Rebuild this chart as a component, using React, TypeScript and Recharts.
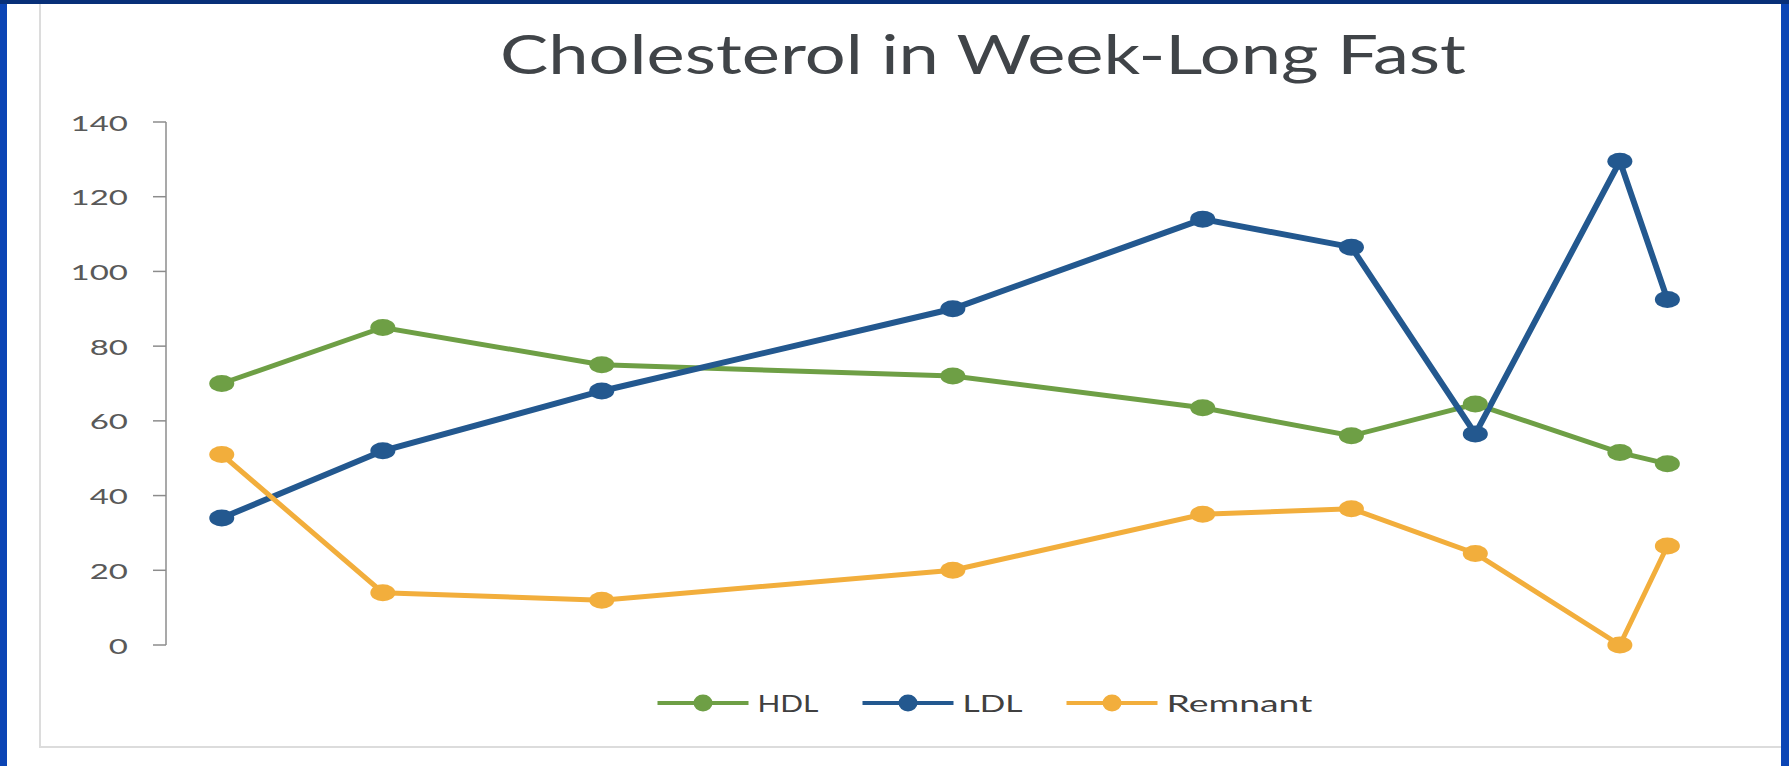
import { LineChart, Line, XAxis, YAxis, Legend } from "recharts";

// x positions in days since start of the fast
const DAYS = [0, 0.78, 1.84, 3.54, 4.75, 5.47, 6.07, 6.77, 7.0];
const HDL = [70, 85, 75, 72, 63.5, 56, 64.5, 51.5, 48.5];
const LDL = [34, 52, 68, 90, 114, 106.5, 56.5, 129.5, 92.5];
const REMNANT = [51, 14, 12, 20, 35, 36.5, 24.5, 0, 26.5];
const Y_TICKS = [0, 20, 40, 60, 80, 100, 120, 140];

const SERIES = [
    { key: "hdl", name: "HDL", color: "#6e9f45", width: 5, labelW: 61 },
    { key: "ldl", name: "LDL", color: "#23588f", width: 6, labelW: 60 },
    { key: "remnant", name: "Remnant", color: "#f2ae3c", width: 5, labelW: 146 },
];

const data = DAYS.map((d, i) => ({ day: d, hdl: HDL[i], ldl: LDL[i], remnant: REMNANT[i] }));

const FONT = "Lato, 'Open Sans', sans-serif";
const W = 1789;
const H = 766;

const YTick = (props: any) => {
    const { x, y, payload } = props;
    return (
        <text
            x={0}
            y={0}
            transform={`translate(${x},${y}) scale(1.5,1)`}
            textAnchor="end"
            dominantBaseline="central"
            fontSize={22}
            fontFamily={FONT}
            fill="#595959"
        >
            {payload.value}
        </text>
    );
};

const makeDot = (color: string) => (props: any) => {
    const { cx, cy, index } = props;
    if (cx == null || cy == null) return <g key={index} />;
    return <ellipse key={index} cx={cx} cy={cy} rx={12.5} ry={8.5} fill={color} />;
};

const LegendContent = () => {
    const icon = 91;
    const gapIcon = 9;
    const gapItem = 44;
    const total = SERIES.reduce((s, it) => s + icon + gapIcon + it.labelW, 0) + gapItem * (SERIES.length - 1);
    let x = 985 - total / 2;
    const items = SERIES.map((s) => {
        const x0 = x;
        x += icon + gapIcon + s.labelW + gapItem;
        return (
            <g key={s.key}>
                <line x1={x0} x2={x0 + icon} y1={20} y2={20} stroke={s.color} strokeWidth={4} />
                <ellipse cx={x0 + icon / 2} cy={20} rx={9.5} ry={8.5} fill={s.color} />
                <text
                    x={x0 + icon + gapIcon}
                    y={20}
                    dominantBaseline="central"
                    fontSize={23}
                    fontFamily={FONT}
                    fill="#404040"
                    textLength={s.labelW}
                    lengthAdjust="spacingAndGlyphs"
                >
                    {s.name}
                </text>
            </g>
        );
    });
    return (
        <svg width={W} height={40} style={{ display: "block" }}>
            {items}
        </svg>
    );
};

export default function App() {
    return (
        <div style={{ position: "fixed", left: 0, top: 0, width: W, height: H, background: "#0b45b5", overflow: "hidden" }}>
            <div style={{ position: "absolute", left: 0, top: 0, width: W, height: 4, background: "#072f78" }} />
            <div style={{ position: "absolute", left: 7, top: 4, width: 1774, height: H - 4, background: "#ffffff" }} />
            <div style={{ position: "absolute", left: 39, top: 4, width: 2, height: 743, background: "#dcdcdc" }} />
            <div style={{ position: "absolute", left: 39, top: 746, width: 1742, height: 2, background: "#dcdcdc" }} />
            <svg width={W} height={120} style={{ position: "absolute", left: 0, top: 0 }}>
                <text
                    x={983}
                    y={74}
                    textAnchor="middle"
                    fontSize={54}
                    fontFamily={FONT}
                    fill="#404448"
                    textLength={966}
                    lengthAdjust="spacingAndGlyphs"
                >
                    Cholesterol in Week-Long Fast
                </text>
            </svg>
            <div style={{ position: "absolute", left: 0, top: 0 }}>
                <LineChart width={W} height={H} data={data} margin={{ top: 122, right: 70, bottom: 121, left: 0 }}>
                    <XAxis dataKey="day" type="number" domain={[-0.27, 7.25]} hide />
                    <YAxis
                        width={166}
                        domain={[0, 140]}
                        ticks={Y_TICKS}
                        interval={0}
                        axisLine={{ stroke: "#8c8c8c", strokeWidth: 1.5 }}
                        tickLine={{ stroke: "#8c8c8c", strokeWidth: 1.5 }}
                        tickSize={13}
                        tickMargin={25}
                        tick={<YTick />}
                    />
                    {SERIES.map((s) => (
                        <Line
                            key={s.key}
                            type="linear"
                            dataKey={s.key}
                            name={s.name}
                            stroke={s.color}
                            strokeWidth={s.width}
                            dot={makeDot(s.color)}
                            activeDot={false}
                            isAnimationActive={false}
                        />
                    ))}
                    <Legend
                        layout="horizontal"
                        verticalAlign="middle"
                        align="center"
                        content={<LegendContent />}
                        wrapperStyle={{ top: 683, left: 0, width: W, height: 40 }}
                    />
                </LineChart>
            </div>
        </div>
    );
}
